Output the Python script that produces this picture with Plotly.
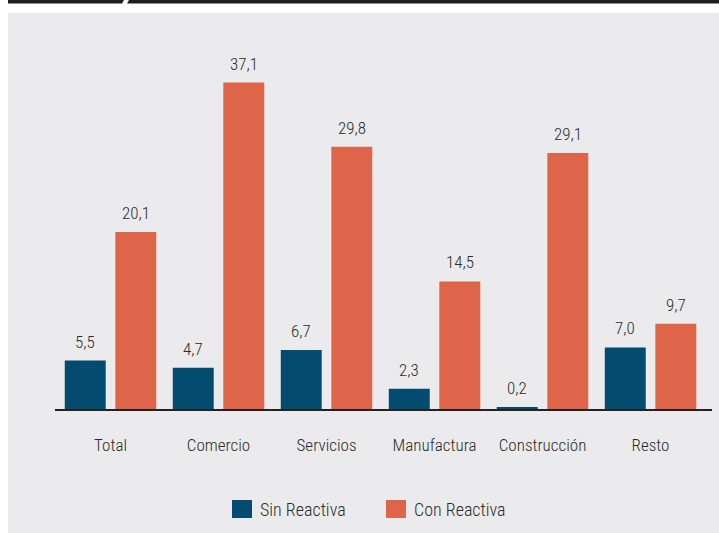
import plotly.graph_objects as go

categories = ["Total", "Comercio", "Servicios", "Manufactura", "Construcción", "Resto"]
sin_reactiva = [5.5, 4.7, 6.7, 2.3, 0.2, 7.0]
con_reactiva = [20.1, 37.1, 29.8, 14.5, 29.1, 9.7]
series_names = ["Sin Reactiva", "Con Reactiva"]

BLUE = "#034B6F"
ORANGE = "#DE644A"
BG = "#EBEBED"
TEXT = "#2B2B2B"
FONT = "Roboto Condensed, DejaVu Sans Condensed, sans-serif"

W, H = 719, 533
L, R, T, B = 55, 7, 30, 124
PW, PH = W - L - R, H - T - B


def px(x):
    return (x - L) / PW


def py(y):
    return (H - B - y) / PH


fig = go.Figure()
fig.add_trace(go.Bar(x=categories, y=sin_reactiva, name=series_names[0],
                     marker=dict(color=BLUE, line_width=0)))
fig.add_trace(go.Bar(x=categories, y=con_reactiva, name=series_names[1],
                     marker=dict(color=ORANGE, line_width=0)))

annotations = []
offset = 0.234
for i in range(len(categories)):
    for vals, off in ((sin_reactiva, -offset), (con_reactiva, offset)):
        annotations.append(dict(
            x=i + off, y=vals[i], xref="x", yref="y",
            text=f"{vals[i]:.1f}".replace(".", ","),
            showarrow=False, yanchor="bottom", yshift=7,
            font=dict(family=FONT, size=17, color=TEXT, weight=300)))

legend_items = [(series_names[0], BLUE, 232), (series_names[1], ORANGE, 386)]
shapes = [
    dict(type="rect", xref="paper", yref="paper", x0=px(8), x1=px(W + 5), y0=py(13), y1=py(H + 5),
         fillcolor=BG, line_width=0, layer="below"),
    dict(type="path", xref="paper", yref="paper",
         path=f"M{px(8)},{py(0)} L{px(124)},{py(0)} L{px(122)},{py(3.5)} L{px(8)},{py(3.5)} Z",
         fillcolor="#1E1E1E", line_width=0),
    dict(type="path", xref="paper", yref="paper",
         path=f"M{px(129)},{py(0)} L{px(W + 5)},{py(0)} L{px(W + 5)},{py(3.5)} L{px(127)},{py(3.5)} Z",
         fillcolor="#1E1E1E", line_width=0),
]
for name, color, x0 in legend_items:
    shapes.append(dict(type="rect", xref="paper", yref="paper",
                       x0=px(x0), x1=px(x0 + 20), y0=py(518), y1=py(500),
                       fillcolor=color, line_width=0))
    annotations.append(dict(x=px(x0 + 26), y=py(509), xref="paper", yref="paper",
                            text=name, showarrow=False, xanchor="left", yanchor="middle",
                            font=dict(family=FONT, size=18, color=TEXT, weight=300)))

fig.update_layout(
    width=W, height=H,
    margin=dict(l=L, r=R, t=T, b=B),
    paper_bgcolor="white", plot_bgcolor=BG,
    barmode="group", bargap=0.064, bargroupgap=0.19,
    showlegend=False,
    font=dict(family=FONT, size=17, color=TEXT, weight=300),
    xaxis=dict(range=[-0.514, 5.569], showline=True, linecolor="#222222", linewidth=1.5,
               showgrid=False, ticks="", ticklabelstandoff=20,
               tickfont=dict(family=FONT, size=17, color=TEXT, weight=300)),
    yaxis=dict(range=[0, 379 / 8.8], visible=False, showgrid=False, zeroline=False),
    shapes=shapes,
    annotations=annotations,
)

fig.write_html("out.html")
